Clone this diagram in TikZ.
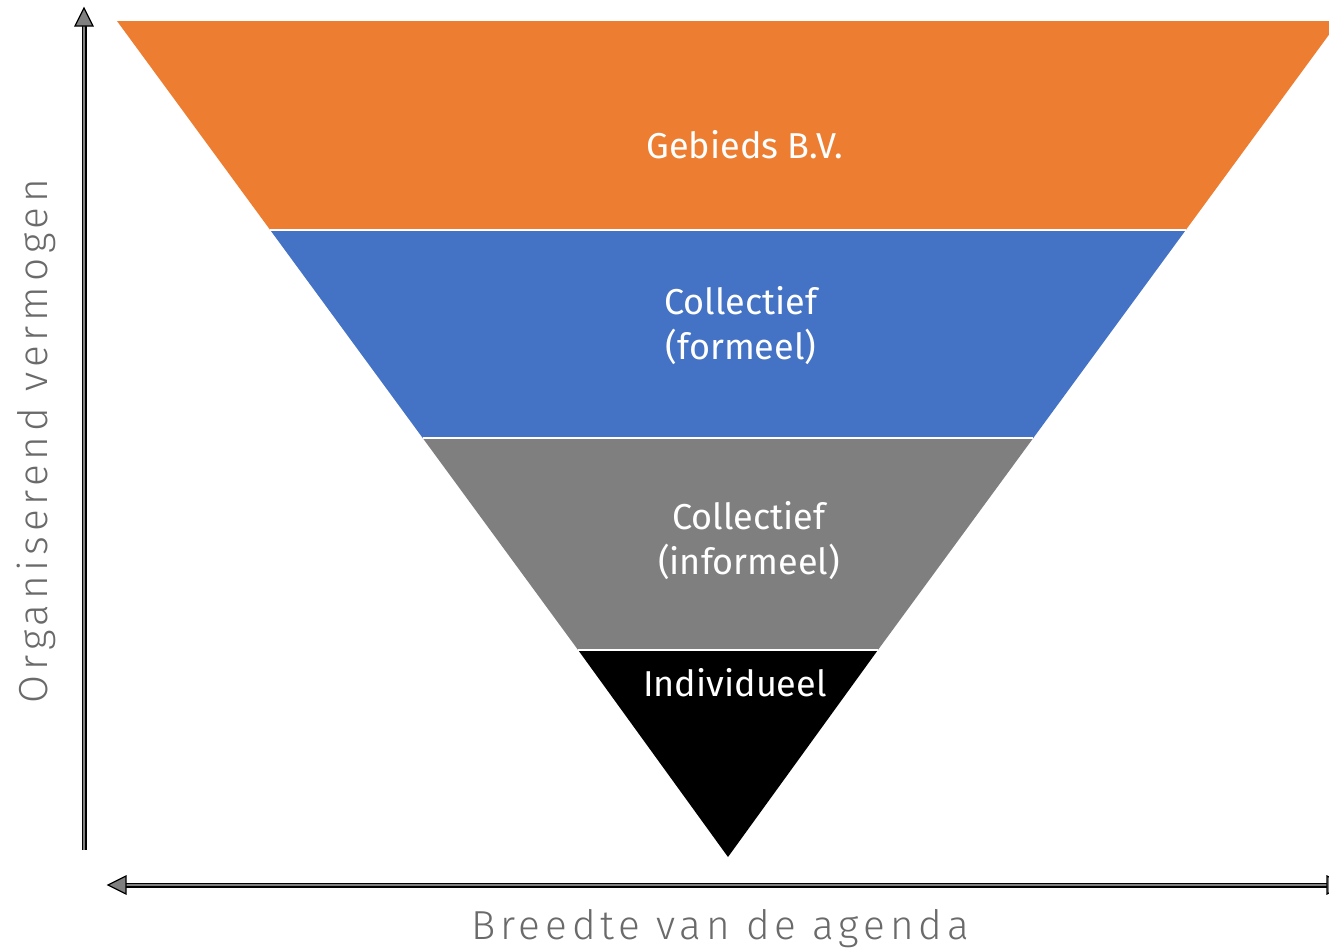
\documentclass[tikz,border=0pt]{standalone}
\usepackage{fontspec}
\setmainfont{Fira Sans}
\newfontfamily\axfont[LetterSpace=12]{Fira Sans Light}
\usetikzlibrary{arrows.meta}
\definecolor{cOrange}{HTML}{ED7D31}
\definecolor{cBlue}{HTML}{4472C4}
\definecolor{cGray}{HTML}{7F7F7F}
\definecolor{cAxisTxt}{HTML}{6A6A6A}
\definecolor{cArrow}{HTML}{808080}
\tikzset{
  sep/.style={draw=white, line width=2.5pt},
  lbl/.style={text=white, font=\fontsize{36}{45}\selectfont, align=center, inner sep=0pt},
  axlbl/.style={text=cAxisTxt, font=\axfont\fontsize{40.5}{46}\selectfont, inner sep=0pt},
  axisouter/.style={draw=black, line width=5pt},
  axisinner/.style={draw=cArrow, line width=2.6pt},
  tip/.style={draw=black, fill=cArrow, line width=1.2pt, line join=miter}
}
\begin{document}
\begin{tikzpicture}[x=1pt,y=-1pt]
\useasboundingbox (0,0) rectangle (1329,951);
\begin{scope}
\clip (0,0) rectangle (1329,951);
\fill[cOrange] (117,21) -- (1339,21) -- (1185.8,230) -- (270.2,230) -- cycle;
\fill[cBlue] (270.2,230) -- (1185.8,230) -- (1033.3,438) -- (422.7,438) -- cycle;
\fill[cGray] (422.7,438) -- (1033.3,438) -- (877.9,650) -- (578.1,650) -- cycle;
\fill[black] (578.1,650) -- (877.9,650) -- (728,857) -- cycle;
\draw[sep] (270.2,230) -- (1185.8,230);
\draw[sep] (422.7,438) -- (1033.3,438);
\draw[sep] (578.1,650) -- (877.9,650);
% horizontal axis
\coordinate (hl) at (122,885);
\coordinate (hr) at (1340,885);
\draw[axisouter] (hl) -- (hr);
\draw[axisinner] (hl) -- (hr);
\path[tip] (108,885) -- (126,876) -- (126,894) -- cycle;
\path[tip] (1327,876) -- (1345,885) -- (1327,894) -- cycle;
\end{scope}
% vertical axis
\coordinate (vb) at (84,850);
\coordinate (vt) at (84,24);
\draw[axisouter] (vb) -- (vt);
\draw[axisinner] (vb) -- (vt);
\path[tip] (84,8) -- (75,26) -- (93,26) -- cycle;
% labels
\node[lbl] (n1) at (745,145) {Gebieds B.V.};
\node[lbl] (n2) at (741,326) {Collectief\\(formeel)};
\node[lbl] (n3) at (749,541) {Collectief\\(informeel)};
\node[lbl] (n4) at (735,683) {Individueel};
\node[axlbl] (xl) at (720,929) {Breedte van de agenda};
\node[axlbl, rotate=90] (yl) at (36,441) {Organiserend vermogen};
\end{tikzpicture}
\end{document}
